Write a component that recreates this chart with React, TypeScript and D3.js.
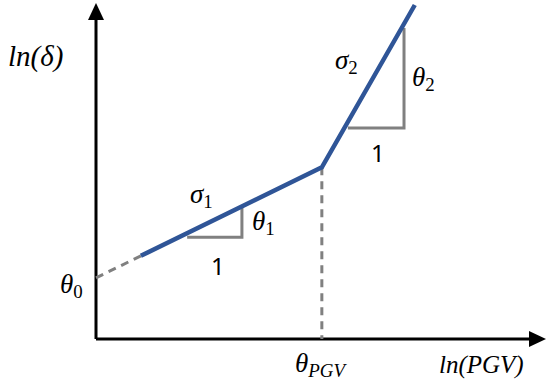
import React from "react";
import * as d3 from "d3";

// abstract ln-space coordinates of the schematic
const dashedLead = [[0, 1.83], [1, 2.49]];
const bluePath = [[1, 2.49], [5.03, 5.14], [7.1, 10]];
const pgvBreak = [[5.03, 5.14], [5.03, 0]];
const slopeTri1 = [[2.03, 3.05], [3.25, 3.05], [3.25, 3.95]];
const slopeTri2 = [[5.61, 6.32], [6.86, 6.32], [6.86, 9.31]];

const width = 550;
const height = 391;
const mathFont = "'Liberation Serif', serif";
const plainFont = "'Noto Sans', sans-serif";

const App = () => {
  const x = d3.scaleLinear().domain([0, 10]).range([96, 545]);
  const y = d3.scaleLinear().domain([0, 10]).range([339, 5]);
  const line = d3.line().x((d) => x(d[0])).y((d) => y(d[1]));

  const sub = (main, s, px, py, size = 27, subItalic = false) => (
    <text x={px} y={py} fontFamily={mathFont} fontSize={size} fill="#000">
      <tspan fontStyle="italic">{main}</tspan>
      <tspan dy={5} fontSize={size * 0.7} fontStyle={subItalic ? "italic" : "normal"}>
        {s}
      </tspan>
    </text>
  );

  return (
    <svg width={width} height={height} style={{ position: "absolute", left: 0, top: 0 }}>
      <rect width={width} height={height} fill="#fff" />
      {/* axes */}
      <line x1={x(0)} y1={y(0)} x2={x(0)} y2={18} stroke="#000" strokeWidth={3} />
      <line x1={x(0)} y1={y(0)} x2={532} y2={y(0)} stroke="#000" strokeWidth={3} />
      <path d={`M${x(0)},3 L${x(0) - 8},20 L${x(0) + 8},20 Z`} fill="#000" />
      <path d={`M546,${y(0)} L529,${y(0) - 8} L529,${y(0) + 8} Z`} fill="#000" />

      {/* dashed guides */}
      <path d={line(dashedLead)} stroke="#808080" strokeWidth={3} strokeDasharray="8,6" fill="none" />
      <path d={line(pgvBreak)} stroke="#808080" strokeWidth={3} strokeDasharray="8,6" fill="none" />

      {/* slope triangles */}
      <path d={line(slopeTri1)} stroke="#808080" strokeWidth={3} fill="none" />
      <path d={line(slopeTri2)} stroke="#808080" strokeWidth={3} fill="none" />

      {/* bilinear model */}
      <path d={line(bluePath)} stroke="#2F5597" strokeWidth={4.5} fill="none" />

      {/* labels */}
      <text x={8} y={66} fontFamily={mathFont} fontSize={29} fontStyle="italic">ln(δ)</text>
      <text x={439} y={373} fontFamily={mathFont} fontSize={25} fontStyle="italic">ln(PGV)</text>
      {sub("σ", "1", 190, 203)}
      {sub("θ", "1", 252, 230)}
      {sub("θ", "0", 60, 293)}
      {sub("θ", "PGV", 295, 372, 27, true)}
      {sub("σ", "2", 335, 69)}
      {sub("θ", "2", 412, 86)}
      <text x={211} y={275} fontFamily={plainFont} fontSize={24}>1</text>
      <text x={371} y={162} fontFamily={plainFont} fontSize={24}>1</text>
    </svg>
  );
};

export default App;
